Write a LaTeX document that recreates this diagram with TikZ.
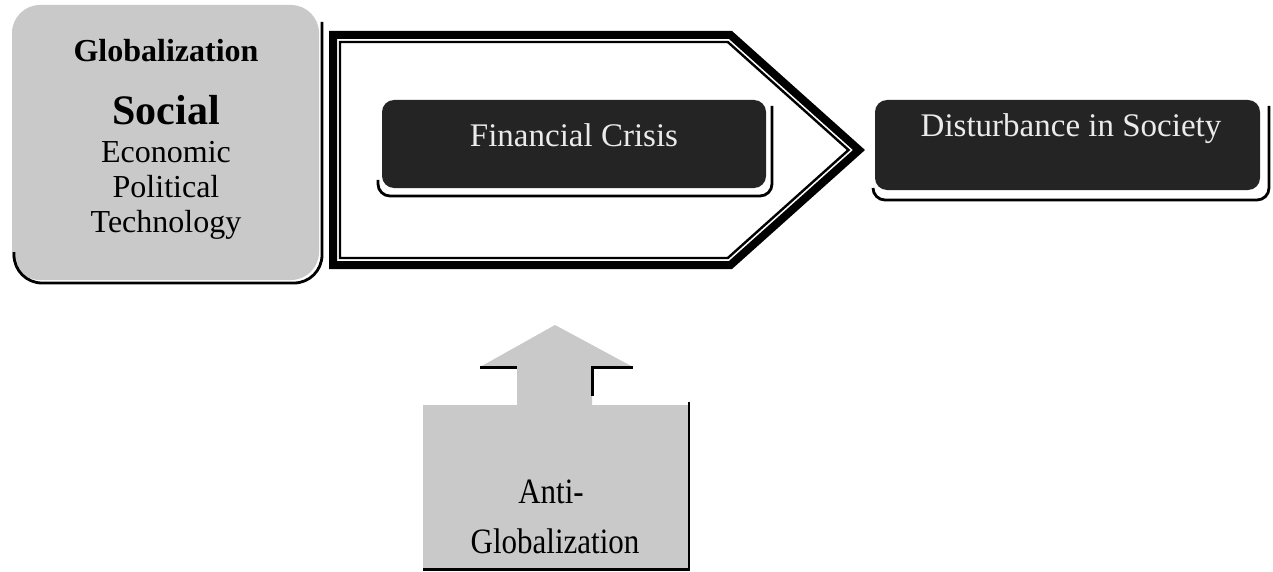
\documentclass[tikz,border=0pt]{standalone}
\usepackage{fontspec}
\setmainfont{Liberation Serif}
\begin{document}
\begin{tikzpicture}[x=1pt,y=-1pt,
  stip/.style={fill=black!21},
  darkfill/.style={fill=black!86},
  shad/.style={draw=black, line width=2.8pt},
  txt/.style={inner sep=0pt, anchor=base},
  lighttxt/.style={inner sep=0pt, anchor=base, text=black!8, font=\fontsize{32}{36}\selectfont},
]
\useasboundingbox (0,0) rectangle (1273,572);

% ---- Globalization box ----
\fill[stip, rounded corners=28pt] (12,5) rectangle (319,280);
\draw[shad, rounded corners=28pt] (14,252) -- (14,283) -- (322,283) -- (322,22);
\node[txt, font=\bfseries\fontsize{32}{36}\selectfont] (glob) at (166,62) {Globalization};
\node[txt, font=\bfseries\fontsize{42}{46}\selectfont] (social) at (166,125) {Social};
\node[txt, font=\fontsize{32}{36}\selectfont] (econ) at (166,163) {Economic};
\node[txt, font=\fontsize{32}{36}\selectfont] (pol) at (166,197) {Political};
\node[txt, font=\fontsize{32}{36}\selectfont] (tech) at (166,232) {Technology};

% ---- pentagon arrow ----
\draw[line width=8pt, line join=miter] (333,35) -- (730.5,35) -- (859,150) -- (730.5,265) -- (333,265) -- cycle;
\draw[line width=2.4pt, line join=miter] (340,42) -- (727.8,42) -- (848.5,150) -- (727.8,258) -- (340,258) -- cycle;

% ---- Financial Crisis ----
\fill[darkfill, rounded corners=12pt] (382,100) rectangle (766,188);
\draw[shad, rounded corners=12pt] (378,180) -- (378,196) -- (772,196) -- (772,106);
\node[lighttxt, font=\fontsize{33}{36}\selectfont] (fin) at (574,147) {Financial Crisis};

% ---- Disturbance in Society ----
\fill[darkfill, rounded corners=12pt] (875,100) rectangle (1260,190);
\draw[shad, rounded corners=12pt] (873,188) -- (873,200) -- (1269,200) -- (1269,106);
\node[lighttxt, font=\fontsize{33}{36}\selectfont] (dist) at (1071,137) {Disturbance in Society};

% ---- Anti-Globalization ----
\fill[stip] (423,405) rectangle (689,568);
\fill[stip] (517,406) -- (517,367) -- (480,367) -- (555,325) -- (633,367) -- (592,367) -- (592,406) -- cycle;
\draw[line width=3pt] (480,367) -- (517,367);
\draw[line width=3pt] (592,396) -- (592,367) -- (633,367);
\draw[line width=2pt] (689,402) -- (689,570);
\draw[line width=3pt] (423,569) -- (690,569);
\node[txt, font=\fontsize{31}{36}\selectfont] (anti) at (551,503) {\scalebox{1}[1.15]{Anti-}};
\node[txt, font=\fontsize{31}{36}\selectfont] (antiglob) at (555,553) {\scalebox{1}[1.15]{Globalization}};
\end{tikzpicture}
\end{document}
